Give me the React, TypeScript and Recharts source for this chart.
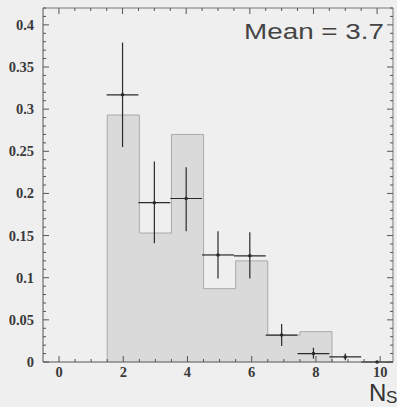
import { Area, ComposedChart, ErrorBar, Scatter, XAxis, YAxis } from "recharts";

// histogram (shaded bins, centred on integers, width 1)
const binCenters = [2, 3, 4, 5, 6, 7, 8];
const binHeights = [0.293, 0.153, 0.27, 0.087, 0.12, 0.032, 0.036];

// data points with asymmetric errors
const pointX = [2, 3, 4, 5, 6, 7, 8, 9, 10];
const pointY = [0.317, 0.189, 0.194, 0.127, 0.126, 0.032, 0.01, 0.006, 0];
const errUp = [0.062, 0.049, 0.037, 0.028, 0.028, 0.013, 0.007, 0.004, 0];
const errDown = [0.062, 0.048, 0.039, 0.028, 0.027, 0.013, 0.006, 0.004, 0];
const binHalfWidth = 0.5;

const xDomain = [-0.5, 10.4];
const yDomain = [0, 0.42];
const xLabels = [0, 2, 4, 6, 8, 10];
const yLabels = [0, 0.05, 0.1, 0.15, 0.2, 0.25, 0.3, 0.35, 0.4];

const xTicks = Array.from({ length: 21 }, (_, i) => i / 2);
const yTicks = Array.from({ length: 43 }, (_, i) => i / 100);

const histData = [{ x: binCenters[0] - binHalfWidth, h: 0 }];
binCenters.forEach((c, i) => histData.push({ x: c - binHalfWidth, h: binHeights[i] }));
histData.push({ x: binCenters[binCenters.length - 1] + binHalfWidth, h: 0 });

const pointData = pointX.map((x, i) => ({
  x,
  y: pointY[i],
  ey: [errDown[i], errUp[i]],
  ex: binHalfWidth
}));

const axisColor = "#555";
const labelFont = { fontFamily: "'Liberation Serif', serif", fontWeight: 700, fontSize: 14.5, fill: "#3a3a3a" };

const isMajorX = (v: number) => xLabels.includes(v);
const isMajorY = (v: number) => yLabels.some((l) => Math.abs(l - v) < 1e-9);

function BottomTick({ x, y, payload }: any) {
  const major = isMajorX(payload.value);
  return (
    <g>
      <line x1={x} x2={x} y1={y} y2={y - (major ? 6 : 3)} stroke={axisColor} />
      {major && (
        <text x={x} y={y + 15} textAnchor="middle" {...labelFont}>
          {payload.value}
        </text>
      )}
    </g>
  );
}

function TopTick({ x, y, payload }: any) {
  const major = isMajorX(payload.value);
  return <line x1={x} x2={x} y1={y} y2={y + (major ? 6 : 3)} stroke={axisColor} />;
}

function LeftTick({ x, y, payload }: any) {
  const major = isMajorY(payload.value);
  return (
    <g>
      <line x1={x} x2={x + (major ? 6 : 3)} y1={y} y2={y} stroke={axisColor} />
      {major && (
        <text x={x - 9} y={y} dy={5} textAnchor="end" {...labelFont}>
          {String(payload.value)}
        </text>
      )}
    </g>
  );
}

function RightTick({ x, y, payload }: any) {
  const major = isMajorY(payload.value);
  return <line x1={x} x2={x - (major ? 6 : 3)} y1={y} y2={y} stroke={axisColor} />;
}

function Dot({ cx, cy }: any) {
  return <circle cx={cx} cy={cy} r={1.8} fill="#2a2a2a" />;
}

export default function App() {
  return (
    <div style={{ position: "absolute", left: 0, top: 0, width: 397, height: 407, background: "#efefef" }}>
      <ComposedChart width={397} height={407} data={histData} margin={{ top: 0, right: 0, bottom: 0, left: 0 }}>
        <XAxis
          xAxisId="bottom"
          dataKey="x"
          type="number"
          domain={xDomain}
          ticks={xTicks}
          interval={0}
          height={45}
          tickSize={0}
          tickMargin={0}
          tickLine={false}
          axisLine={{ stroke: axisColor }}
          tick={<BottomTick />}
        />
        <XAxis
          xAxisId="top"
          orientation="top"
          dataKey="x"
          type="number"
          domain={xDomain}
          ticks={xTicks}
          interval={0}
          height={8}
          tickSize={0}
          tickMargin={0}
          tickLine={false}
          axisLine={{ stroke: "#777" }}
          tick={<TopTick />}
        />
        <YAxis
          yAxisId="left"
          type="number"
          domain={yDomain}
          ticks={yTicks}
          interval={0}
          width={43}
          tickSize={0}
          tickMargin={0}
          tickLine={false}
          axisLine={{ stroke: axisColor }}
          tick={<LeftTick />}
        />
        <YAxis
          yAxisId="right"
          orientation="right"
          type="number"
          domain={yDomain}
          ticks={yTicks}
          interval={0}
          width={4}
          tickSize={0}
          tickMargin={0}
          tickLine={false}
          axisLine={{ stroke: "#777" }}
          tick={<RightTick />}
        />
        <Area
          xAxisId="bottom"
          yAxisId="left"
          dataKey="h"
          type="stepAfter"
          fill="#dadada"
          fillOpacity={1}
          stroke="#aaaaaa"
          strokeWidth={1}
          dot={false}
          activeDot={false}
          isAnimationActive={false}
        />
        <Scatter
          xAxisId="top"
          yAxisId="right"
          data={pointData}
          dataKey="y"
          shape={<Dot />}
          isAnimationActive={false}
        >
          <ErrorBar dataKey="ey" direction="y" width={0} stroke="#2a2a2a" strokeWidth={1.2} isAnimationActive={false} />
          <ErrorBar dataKey="ex" direction="x" width={0} stroke="#2a2a2a" strokeWidth={1.2} isAnimationActive={false} />
        </Scatter>
      </ComposedChart>
      <svg width={397} height={407} style={{ position: "absolute", left: 0, top: 0, pointerEvents: "none" }}>
        <text
          x={244}
          y={39}
          fontFamily="'Liberation Sans', Arial, sans-serif"
          fontSize={22}
          fill="#444"
          textLength={140}
          lengthAdjust="spacingAndGlyphs"
        >
          Mean = 3.7
        </text>
        <text x={369} y={401} fontFamily="'Liberation Sans', Arial, sans-serif" fontSize={24} fill="#333">
          N
        </text>
        <text x={386} y={403} fontFamily="'Liberation Sans', Arial, sans-serif" fontSize={17} fill="#333">
          S
        </text>
      </svg>
    </div>
  );
}
